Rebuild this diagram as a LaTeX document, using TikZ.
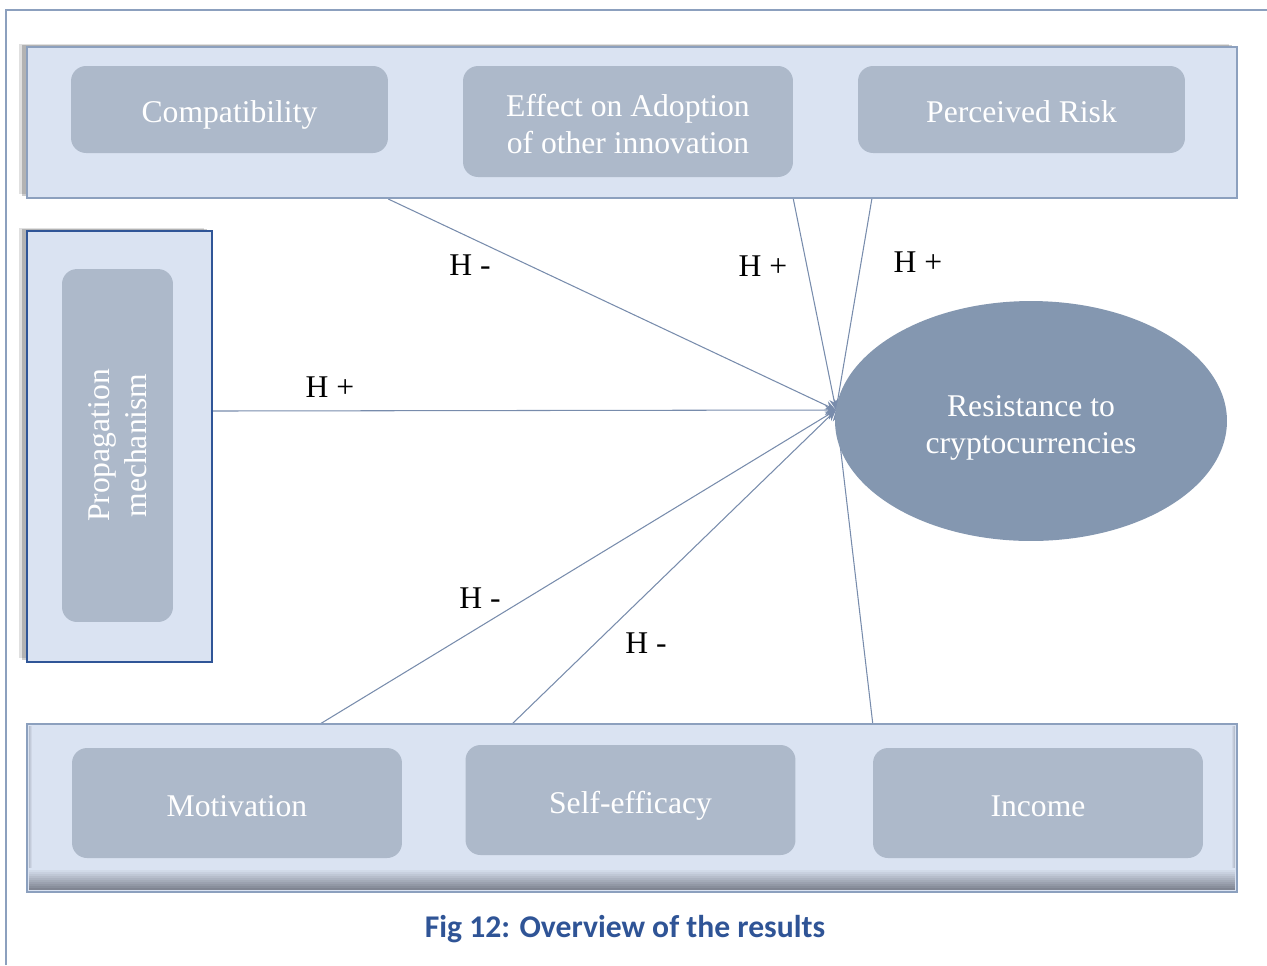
\documentclass[tikz,border=0pt]{standalone}
\usepackage{fontspec}
\setmainfont{Liberation Serif}
\newfontfamily\capfont{Carlito}
\usetikzlibrary{shapes.geometric, arrows.meta, shadows, backgrounds}
\definecolor{bandfill}{RGB}{218,227,242}
\definecolor{bandline}{RGB}{140,160,190}
\definecolor{boxfill}{RGB}{173,185,202}
\definecolor{ovalfill}{RGB}{132,151,176}
\definecolor{darkline}{RGB}{47,85,151}
\definecolor{linkcol}{RGB}{120,140,172}
\definecolor{capblue}{RGB}{47,84,150}
\definecolor{shadedark}{RGB}{105,110,122}
\tikzset{low/.style={execute at begin node={\rule{0pt}{#1}}}}

\begin{document}
\begin{tikzpicture}[x=0.02cm, y=-0.02cm, font=\fontsize{18}{21}\selectfont]
\useasboundingbox (0,0) rectangle (1267,965);
% Define styles
\tikzstyle{band} = [rectangle, draw=bandline, line width=1.2pt, fill=bandfill, minimum width=24.2cm, inner sep=0pt]
\tikzstyle{factor} = [rectangle, rounded corners=0.3cm, fill=boxfill, text=white, align=center, minimum width=6.6cm, minimum height=2.2cm, inner sep=0pt]
\tikzstyle{oval} = [ellipse, fill=ovalfill, text=white, align=center, minimum width=7.84cm, minimum height=4.8cm, inner sep=0pt]
\tikzstyle{hyp} = [black, inner sep=0pt]
\tikzstyle{link} = [draw=linkcol, line width=0.6pt, -{Stealth[length=0.22cm, width=0.18cm]}]
\tikzstyle{outshadow} = [general shadow={shadow xshift=-0.16cm, shadow yshift=0.07cm, fill=black, opacity=0.12},
                         general shadow={shadow xshift=-0.1cm, shadow yshift=0.04cm, fill=black, opacity=0.2}]
% Outer frame
\draw [bandline, line width=1.1pt] (6,965) -- (6,10) -- (1267,10);
% Place nodes
\node (topband) [band, outshadow, minimum height=3.02cm] at (632,122.5) {};
\node (compat) [factor, low=18.5pt, minimum width=6.34cm, minimum height=1.74cm] at (229.5,109.5) {Compatibility};
\node (effect) [factor, minimum height=2.22cm] at (628,121.5) {\rule{0pt}{15.5pt}Effect on Adoption\\of other innovation};
\node (risk) [factor, low=15.5pt, minimum width=6.54cm, minimum height=1.74cm] at (1021.5,109.5) {Perceived Risk};
\node (leftbox) [rectangle, draw=darkline, line width=1.2pt, fill=bandfill, outshadow, minimum width=3.7cm, minimum height=8.62cm, inner sep=0pt] at (119.5,446.5) {};
\node (propag) [factor, rotate=90, minimum width=7.06cm, minimum height=2.22cm] at (117.5,445.5) {Propagation\\mechanism};
\node (resist) [oval] at (1031,421) {\rule{0pt}{19.5pt}Resistance to\\cryptocurrencies};
\node (botband) [band, minimum height=3.36cm] at (632,808) {};
% inner shading of the lower band
\foreach \k in {0,...,10} {
  \pgfmathtruncatemacro\mix{100-8*\k}
  \fill [bandfill!\mix!shadedark] (29,868+2*\k) rectangle (1235,870+2*\k);
}
\foreach \k in {0,...,3} {
  \pgfmathtruncatemacro\mix{70+10*\k}
  \fill [bandfill!\mix!shadedark] (29+\k,726) rectangle (30+\k,868);
  \fill [bandfill!\mix!shadedark] (1235-\k,726) rectangle (1234-\k,868);
}
\node (motiv) [factor, low=16pt] at (237,803) {Motivation};
\node (selfeff) [factor, low=19pt] at (630.5,800) {Self-efficacy};
\node (income) [factor, low=16pt] at (1038,803) {Income};
\node (caption) [text=capblue, font=\capfont\bfseries\fontsize{18}{21}\selectfont] at (625,929) {Fig 12: Overview of the results};
% Line ends
\coordinate (hub) at (836,410);
\coordinate (c1) at (topband.south -| compat.east);
\coordinate (c2) at (topband.south -| effect.east);
\coordinate (c3) at (872,198);
\coordinate (c4) at (212,411);
\coordinate (c5) at (320,724);
\coordinate (c6) at (512,724);
\coordinate (c7) at (botband.north -| income.west);
% Draw arrows
\begin{scope}[on background layer]
\draw [link] (c1) -- (hub);
\draw [link] (c2) -- (hub);
\draw [link] (c3) -- (hub);
\draw [link] (c4) -- (hub);
\draw [link] (c5) -- (hub);
\draw [link] (c6) -- (hub);
\draw [link] (c7) -- (hub);
\end{scope}
% Labels
\node (h1) [hyp] at (470,265) {H -};
\node (h2) [hyp] at (763,266) {H +};
\node (h3) [hyp] at (918,262) {H +};
\node (h4) [hyp] at (330,387) {H +};
\node (h5) [hyp] at (480,598) {H -};
\node (h6) [hyp] at (646,643) {H -};
\end{tikzpicture}
\end{document}
